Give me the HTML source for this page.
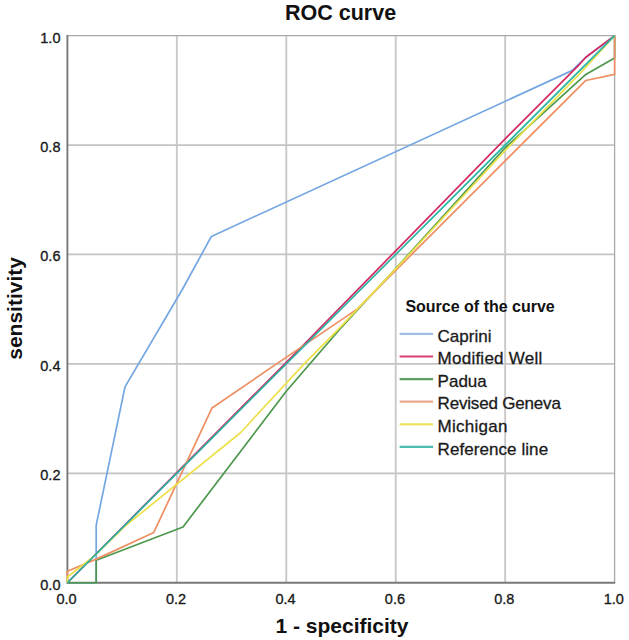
<!DOCTYPE html>
<html><head><meta charset="utf-8"><title>ROC curve</title>
<style>
html,body{margin:0;padding:0;background:#fff;}
body{width:629px;height:640px;overflow:hidden;font-family:"Liberation Sans",sans-serif;}
svg{display:block;}
text{font-family:"Liberation Sans",sans-serif;fill:#1a1a1a;}
.tick{font-size:15.4px;stroke:#1a1a1a;stroke-width:0.35px;}
.ttl{font-size:21.5px;font-weight:bold;fill:#111;}
.ax{font-size:21px;font-weight:bold;fill:#111;}
.lgt{font-size:16px;font-weight:bold;fill:#111;}
.lg{font-size:17px;stroke:#1a1a1a;stroke-width:0.3px;}
.cv{fill:none;stroke-width:1.7;stroke-linejoin:round;stroke-linecap:butt;}
</style></head><body>
<svg width="629" height="640" viewBox="0 0 629 640">
<rect x="0" y="0" width="629" height="640" fill="#ffffff"/>

<g fill="none">
<line x1="176.84" y1="35.6" x2="176.84" y2="582.75" stroke="#c9c9c9" stroke-width="1.9"/>
<line x1="67.4" y1="473.32" x2="614.6" y2="473.32" stroke="#c3c3c3" stroke-width="1.7"/>
<line x1="286.28" y1="35.6" x2="286.28" y2="582.75" stroke="#c9c9c9" stroke-width="1.9"/>
<line x1="67.4" y1="363.89" x2="614.6" y2="363.89" stroke="#c3c3c3" stroke-width="1.7"/>
<line x1="395.72" y1="35.6" x2="395.72" y2="582.75" stroke="#c9c9c9" stroke-width="1.9"/>
<line x1="67.4" y1="254.46" x2="614.6" y2="254.46" stroke="#c3c3c3" stroke-width="1.7"/>
<line x1="505.16" y1="35.6" x2="505.16" y2="582.75" stroke="#c9c9c9" stroke-width="1.9"/>
<line x1="67.4" y1="145.03" x2="614.6" y2="145.03" stroke="#c3c3c3" stroke-width="1.7"/>
</g>
<path d="M67.4 35.6 H614.6 V582.75" fill="none" stroke="#a9a9a9" stroke-width="1.3"/>
<path d="M67.4 35.0 V582.75 H615.2" fill="none" stroke="#787878" stroke-width="1.9"/>
<polyline class="cv" stroke="#74a6e2" points="67.40,582.75 96.20,582.75 96.20,525.16 125.00,386.93 182.60,289.02 211.40,236.40 571.92,70.62 585.80,57.49 614.60,35.60"/>
<polyline class="cv" stroke="#d62a62" points="67.40,582.75 297.22,351.31 395.72,250.85 505.16,138.90 580.02,63.78 585.80,57.21 614.60,35.60"/>
<polyline class="cv" stroke="#4c974c" points="67.40,582.75 96.20,582.75 96.20,560.32 183.02,526.94 286.28,391.25 339.30,329.69 395.72,268.47 505.16,147.77 585.80,74.45 614.60,58.03 614.60,35.60"/>
<polyline class="cv" stroke="#ee8f63" points="67.40,582.75 67.40,571.23 96.20,559.11 153.80,532.41 212.02,407.94 357.42,308.90 395.72,270.33 505.16,160.90 585.80,80.47 614.60,74.45 614.60,35.60"/>
<polyline class="cv" stroke="#ece04a" points="67.40,582.75 67.40,576.99 96.20,554.30 125.00,526.12 240.20,433.00 303.68,364.44 336.79,330.79 395.72,268.96 505.16,150.50 580.02,73.35 585.80,67.06 614.60,35.60"/>
<polyline class="cv" stroke="#27b3a6" points="67.40,582.75 614.60,35.60"/>
<text class="tick" x="40.3" y="589.65" textLength="20.2" lengthAdjust="spacingAndGlyphs">0.0</text>
<text class="tick" x="56.50" y="604.3" textLength="20.2" lengthAdjust="spacingAndGlyphs">0.0</text>
<text class="tick" x="40.3" y="480.22" textLength="20.2" lengthAdjust="spacingAndGlyphs">0.2</text>
<text class="tick" x="165.94" y="604.3" textLength="20.2" lengthAdjust="spacingAndGlyphs">0.2</text>
<text class="tick" x="40.3" y="370.79" textLength="20.2" lengthAdjust="spacingAndGlyphs">0.4</text>
<text class="tick" x="275.38" y="604.3" textLength="20.2" lengthAdjust="spacingAndGlyphs">0.4</text>
<text class="tick" x="40.3" y="261.36" textLength="20.2" lengthAdjust="spacingAndGlyphs">0.6</text>
<text class="tick" x="384.82" y="604.3" textLength="20.2" lengthAdjust="spacingAndGlyphs">0.6</text>
<text class="tick" x="40.3" y="151.93" textLength="20.2" lengthAdjust="spacingAndGlyphs">0.8</text>
<text class="tick" x="494.26" y="604.3" textLength="20.2" lengthAdjust="spacingAndGlyphs">0.8</text>
<text class="tick" x="40.3" y="42.50" textLength="20.2" lengthAdjust="spacingAndGlyphs">1.0</text>
<text class="tick" x="603.70" y="604.3" textLength="20.2" lengthAdjust="spacingAndGlyphs">1.0</text>
<text class="ttl" x="340.6" y="19.7" text-anchor="middle">ROC curve</text>
<text class="ax" x="342.0" y="633" text-anchor="middle">1 - specificity</text>
<text class="ax" transform="translate(21.5 308.4) rotate(-90) scale(1 0.93)" text-anchor="middle">sensitivity</text>
<text class="lgt" x="405.4" y="311.8">Source of the curve</text>
<line x1="399.6" y1="333.90" x2="433.1" y2="333.90" stroke="#a0bfe2" stroke-width="2.2"/>
<text class="lg" x="437.6" y="341.50">Caprini</text>
<line x1="399.6" y1="356.50" x2="433.1" y2="356.50" stroke="#dc3f77" stroke-width="2.2"/>
<text class="lg" x="437.6" y="364.10" textLength="104.6" lengthAdjust="spacing">Modified Well</text>
<line x1="399.6" y1="379.10" x2="433.1" y2="379.10" stroke="#5fa05f" stroke-width="2.2"/>
<text class="lg" x="437.6" y="386.70">Padua</text>
<line x1="399.6" y1="401.70" x2="433.1" y2="401.70" stroke="#eaa88a" stroke-width="2.2"/>
<text class="lg" x="437.6" y="409.30" textLength="123.3" lengthAdjust="spacing">Revised Geneva</text>
<line x1="399.6" y1="424.30" x2="433.1" y2="424.30" stroke="#ede35c" stroke-width="2.2"/>
<text class="lg" x="437.6" y="431.90" textLength="69.9" lengthAdjust="spacing">Michigan</text>
<line x1="399.6" y1="446.90" x2="433.1" y2="446.90" stroke="#4cbdb1" stroke-width="2.2"/>
<text class="lg" x="437.6" y="454.50" textLength="110.5" lengthAdjust="spacing">Reference line</text>
</svg>
</body></html>
